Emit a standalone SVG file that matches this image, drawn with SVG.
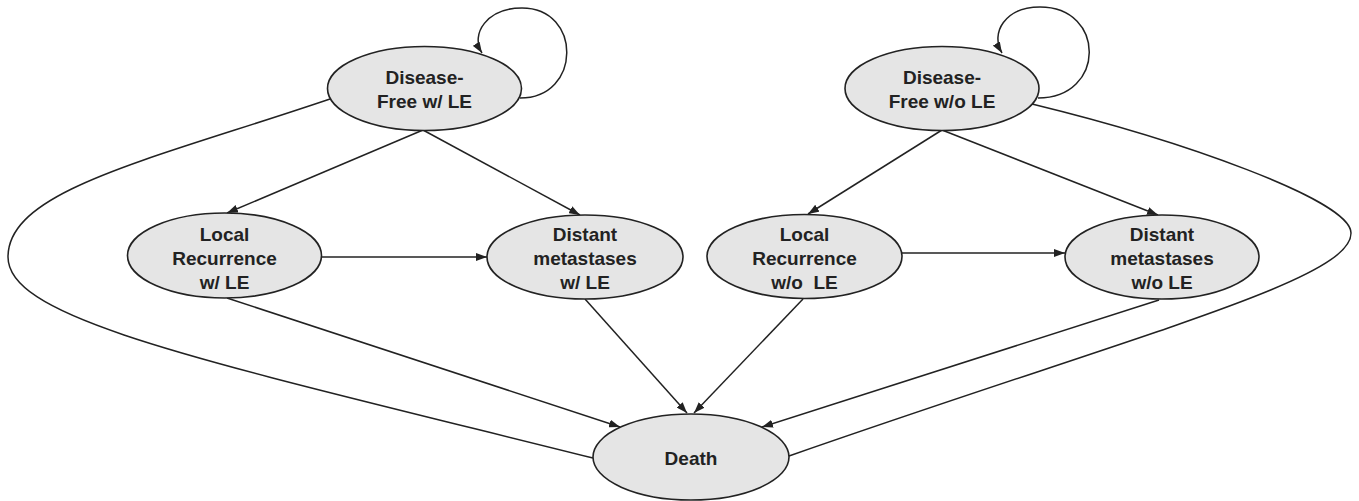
<svg xmlns="http://www.w3.org/2000/svg" width="1359" height="501" viewBox="0 0 1359 501">
<style>
.node ellipse{fill:#e5e5e5;stroke:#222;stroke-width:1.6}
.node text{font-family:"Liberation Sans",Arial,sans-serif;font-weight:bold;font-size:19px;fill:#222;text-anchor:middle;white-space:pre}
.edges path{fill:none;stroke:#222;stroke-width:1.5}
.arr{marker-end:url(#ah)}
</style>
<defs>
<marker id="ah" markerUnits="userSpaceOnUse" markerWidth="11" markerHeight="8" refX="11" refY="4" orient="auto">
<path d="M0,0 L11,4 L0,8 z" fill="#222"/>
</marker>
</defs>
<rect width="1359" height="501" fill="#fff"/>
<g class="edges">
<path class="arr" d="M520 98 C582 98 582 8 522 8 C487 8 470 34 482 53"/>
<path class="arr" d="M1038 98 C1106 98 1106 7 1040 7 C1005 7 990 33 1002 53"/>
<path class="arr" d="M423 130 L227 213"/>
<path class="arr" d="M423 130 L580 215"/>
<path class="arr" d="M322 257 L487 257"/>
<path class="arr" d="M227 298 L620 427"/>
<path class="arr" d="M585 299 L687 413"/>
<path class="arr" d="M803 299 L694 413"/>
<path class="arr" d="M1159 300 L762 427"/>
<path class="arr" d="M942 130 L808 214"/>
<path class="arr" d="M942 130 L1158 215"/>
<path class="arr" d="M902 253 L1065 253"/>
<path d="M330 99 C150 160 8 190 8 257 C8 320 200 360 593 458"/>
<path d="M1032 104 C1180 140 1351 200 1351 233 C1351 280 1150 330 789 456"/>
</g>
<g id="df-le" class="node"><ellipse cx="424.5" cy="88.5" rx="97" ry="42"/><text x="424.5" y="83.5">Disease-</text><text x="424.5" y="107.5">Free w/ LE</text></g>
<g id="df-wo" class="node"><ellipse cx="942" cy="88.5" rx="97" ry="42"/><text x="942" y="83.5">Disease-</text><text x="942" y="107.5">Free w/o LE</text></g>
<g id="lr-le" class="node"><ellipse cx="224.5" cy="255.5" rx="97" ry="42.5"/><text x="224.5" y="240.5">Local</text><text x="224.5" y="264.5">Recurrence</text><text x="224.5" y="288.5">w/ LE</text></g>
<g id="dm-le" class="node"><ellipse cx="585" cy="257" rx="98" ry="42"/><text x="585" y="240.5">Distant</text><text x="585" y="264.5">metastases</text><text x="585" y="288.5">w/ LE</text></g>
<g id="lr-wo" class="node"><ellipse cx="804.5" cy="256.5" rx="97.5" ry="42"/><text x="804.5" y="240.5">Local</text><text x="804.5" y="264.5">Recurrence</text><text x="804.5" y="288.5">w/o  LE</text></g>
<g id="dm-wo" class="node"><ellipse cx="1162" cy="257" rx="97" ry="42"/><text x="1162" y="240.5">Distant</text><text x="1162" y="264.5">metastases</text><text x="1162" y="288.5">w/o LE</text></g>
<g id="death" class="node"><ellipse cx="691" cy="457" rx="98" ry="43"/><text x="691" y="465">Death</text></g>
</svg>
